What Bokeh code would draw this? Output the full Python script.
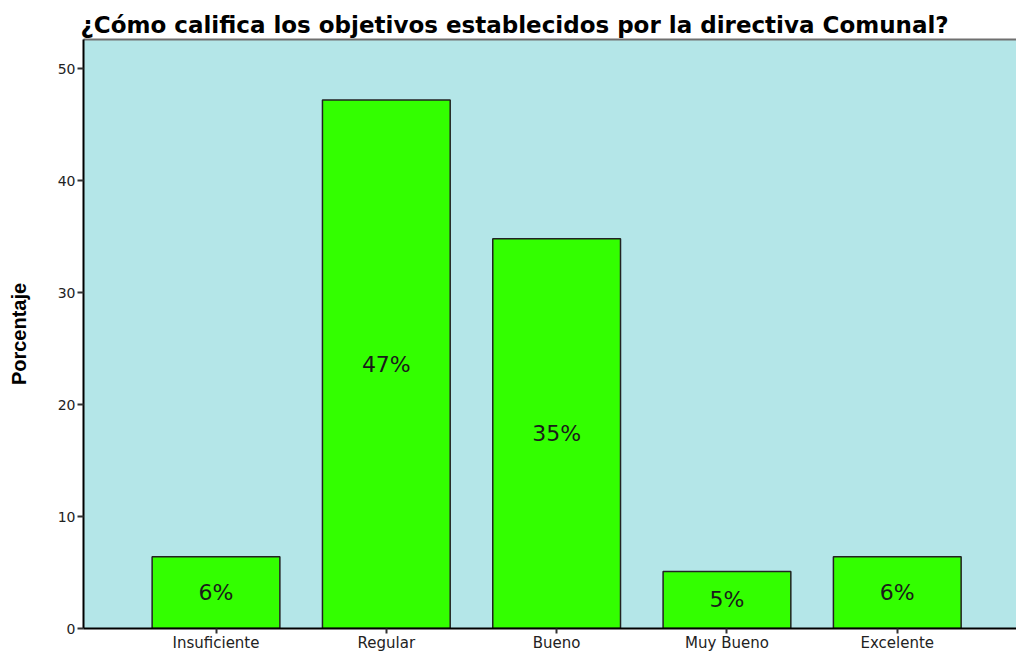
from bokeh.plotting import figure
from bokeh.models import Range1d, FixedTicker, ColumnDataSource, LinearAxis
from bokeh.core.properties import value
from bokeh.embed import file_html
from bokeh.resources import INLINE

categories = ["Insuficiente", "Regular", "Bueno", "Muy Bueno", "Excelente"]
percentages = [6.4, 47.2, 34.8, 5.1, 6.4]
bar_labels = ["6%", "47%", "35%", "5%", "6%"]
y_ticks = [0, 10, 20, 30, 40, 50]

xs = list(range(len(categories)))
src = ColumnDataSource(dict(x=xs, top=percentages, mid=[v / 2 for v in percentages], lab=bar_labels))

p = figure(width=1016, height=654, output_backend="svg", toolbar_location=None,
           x_range=Range1d(-0.778, 4.70), y_range=Range1d(0, 52.6),
           min_border_left=83, min_border_right=0, min_border_top=39, min_border_bottom=21,
           title="¿Cómo califica los objetivos establecidos por la directiva Comunal?")

p.background_fill_color = "#b4e6e8"
p.border_fill_color = "white"
p.outline_line_color = None
p.grid.visible = False

top_axis = LinearAxis(ticker=FixedTicker(ticks=[], minor_ticks=[]),
                      axis_line_color="#707070", axis_line_width=2,
                      major_tick_line_color=None, minor_tick_line_color=None,
                      major_label_standoff=0)
p.add_layout(top_axis, "above")

p.vbar(x="x", top="top", width=0.75, bottom=0, source=src,
       fill_color="#33ff00", line_color="#222222", line_width=1.5)
p.text(x="x", y="mid", text="lab", source=src, text_align="center", text_baseline="middle",
       text_font=value("DejaVu Sans"), text_font_size="22px", text_color="#1a1a1a")

p.title.text_font = "DejaVu Sans"
p.title.text_font_size = "23px"
p.title.text_font_style = "bold"
p.title.text_color = "black"
p.title.align = "left"
p.title.offset = -3
p.title.standoff = 4

xaxis = p.below[0]
yaxis = p.left[0]
xaxis.ticker = FixedTicker(ticks=xs)
xaxis.major_label_overrides = {i: c for i, c in enumerate(categories)}
yaxis.ticker = FixedTicker(ticks=y_ticks)
for ax in (xaxis, yaxis):
    ax.axis_line_color = "black"
    ax.axis_line_width = 2
    ax.major_tick_line_color = "#333333"
    ax.major_tick_line_width = 2
    ax.major_tick_out = 6
    ax.major_tick_in = 0
    ax.minor_tick_line_color = None
    ax.major_label_text_font = "DejaVu Sans"
    ax.major_label_text_color = "#222222"
    ax.major_label_standoff = 2
xaxis.major_label_standoff = 0
xaxis.major_tick_out = 5
xaxis.major_label_text_font_size = "15px"
yaxis.major_label_text_font_size = "14px"

yaxis.axis_label = "Porcentaje"
yaxis.axis_label_text_font = "Liberation Sans"
yaxis.axis_label_text_font_style = "bold"
yaxis.axis_label_text_font_size = "20px"
yaxis.axis_label_text_color = "black"
yaxis.axis_label_standoff = 25

open("out.html", "w").write(file_html(p, INLINE))
